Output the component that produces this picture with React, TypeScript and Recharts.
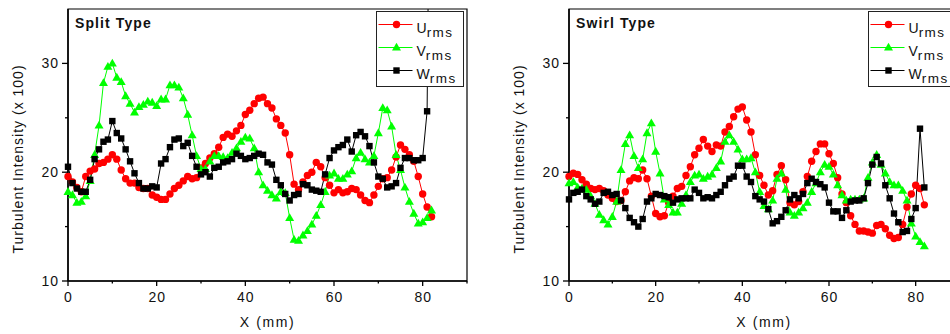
import React from 'react'
import { LineChart, Line, XAxis, YAxis, ReferenceArea, Legend } from 'recharts'

// positions along the jet, mm
const X_MM = [
  0, 1, 2, 3, 4, 5, 6, 7, 8, 9, 10, 11, 12, 13, 14, 15, 16, 17, 18, 19, 20,
  21, 22, 23, 24, 25, 26, 27, 28, 29, 30, 31, 32, 33, 34, 35, 36, 37, 38, 39, 40,
  41, 42, 43, 44, 45, 46, 47, 48, 49, 50, 51, 52, 53, 54, 55, 56, 57, 58, 59, 60,
  61, 62, 63, 64, 65, 66, 67, 68, 69, 70, 71, 72, 73, 74, 75, 76, 77, 78, 79, 80,
  81, 82,
]

// Split type
const SPLIT_U = [
  19.6, 19.1, 18.6, 18.2, 19.6, 20.1, 20.3, 20.8, 20.9, 21.2,
  21.6, 21.2, 20.2, 19.4, 19.0, 19.0, 18.6, 18.5, 18.5, 17.9,
  17.7, 17.5, 17.5, 18.0, 18.5, 18.8, 19.2, 19.6, 19.4, 19.5,
  20.4, 20.8, 21.3, 21.7, 22.3, 23.2, 23.5, 23.3, 23.8, 24.3,
  25.3, 25.7, 26.3, 26.8, 26.9, 26.3, 25.9, 24.9, 24.3, 23.6,
  21.6, 18.9, 18.4, 19.1, 19.7, 20.0, 20.9, 20.5, 19.5, 18.8,
  18.1, 18.4, 18.1, 18.2, 18.5, 18.4, 17.9, 17.4, 17.2, 17.9,
  18.7, 19.4, 19.5, 20.2, 21.4, 22.5, 22.1, 21.6, 21.0, 19.6,
  18.0, 16.8, 15.9,
]
const SPLIT_V = [
  18.2, 17.9, 17.2, 17.3, 17.8, 19.2, 21.6, 24.3, 28.2, 29.7,
  30.0, 28.7, 28.3, 27.0, 26.3, 25.5, 26.0, 26.2, 26.5, 26.4,
  26.1, 26.7, 26.7, 28.0, 28.0, 27.8, 26.8, 25.3, 23.4, 21.5,
  20.3, 20.3, 21.0, 21.5, 21.5, 21.4, 21.3, 21.8, 22.2, 22.8,
  23.2, 23.1, 22.2, 20.0, 18.8, 18.3, 17.9, 17.6, 18.2, 18.1,
  15.8, 13.8, 13.7, 14.2, 14.6, 15.2, 16.0, 17.0, 18.2, 19.7,
  19.9, 19.4, 19.4, 19.8, 20.1, 21.3, 21.8, 21.2, 20.9, 21.5,
  23.6, 25.9, 25.7, 24.2, 21.6, 20.2, 18.6, 17.3, 16.2, 15.3,
  15.4, 15.8, 16.5,
]
const SPLIT_W = [
  20.5, 19.0, 18.5, 18.2, 18.2, 19.3, 21.2, 22.1, 22.8, 23.0,
  24.7, 23.6, 23.1, 22.1, 21.0, 19.9, 19.0, 18.5, 18.5, 18.7,
  18.6, 20.8, 21.2, 22.3, 23.0, 23.1, 22.4, 22.7, 21.5, 20.5,
  19.8, 20.0, 19.6, 20.4, 20.5, 20.9, 21.0, 21.2, 21.7, 21.5,
  21.2, 21.3, 21.5, 21.7, 21.6, 20.9, 20.7, 19.3, 18.8, 18.0,
  17.4, 17.9, 18.0, 18.9, 18.8, 18.4, 18.3, 18.2, 19.8, 21.3,
  22.0, 22.3, 22.5, 23.0, 21.9, 23.4, 23.7, 23.3, 22.4, 20.9,
  19.6, 19.4, 18.6, 18.7, 19.0, 20.4, 21.3, 21.3, 21.1, 21.1,
  21.3, 25.6, 70.0,
]

// Swirl type
const SWIRL_U = [
  19.6, 19.9, 19.8, 19.3, 18.9, 18.5, 18.4, 18.5, 18.3, 17.9,
  17.6, 17.3, 17.4, 18.2, 19.2, 19.5, 19.4, 20.2, 19.4, 17.8,
  16.2, 15.9, 16.0, 17.2, 17.8, 18.5, 18.7, 19.7, 20.5, 21.6,
  22.2, 23.0, 22.4, 21.9, 22.5, 22.4, 23.7, 24.2, 25.1, 25.8,
  26.0, 24.8, 23.7, 21.6, 19.7, 18.8, 17.9, 18.3, 19.8, 20.6,
  19.3, 17.2, 17.0, 17.3, 18.2, 19.6, 21.0, 21.9, 22.6, 22.6,
  21.7, 20.8, 19.5, 18.0, 17.2, 16.0, 15.2, 14.6, 14.6, 14.5,
  14.4, 15.1, 15.2, 14.8, 14.2, 13.9, 14.0, 15.2, 16.8, 18.0,
  18.8, 18.5, 17.0,
]
const SWIRL_V = [
  19.0, 19.1, 18.6, 18.5, 18.4, 17.8, 17.1, 16.1, 15.6, 15.2,
  15.9, 17.3, 20.2, 22.6, 23.4, 21.5, 20.4, 21.2, 23.6, 24.5,
  21.9, 19.9, 17.5, 17.0, 16.3, 16.3, 17.1, 17.9, 19.1, 19.7,
  19.8, 19.4, 19.6, 19.8, 20.4, 21.0, 22.8, 23.4, 22.8, 22.1,
  21.2, 21.2, 21.3, 20.0, 18.2, 16.9, 16.6, 17.4, 19.4, 19.9,
  18.4, 16.3, 16.0, 16.3, 16.7, 17.2, 18.2, 19.0, 20.0, 20.7,
  20.5, 19.8, 18.8, 17.9, 17.4, 17.5, 17.5, 17.5, 17.6, 19.5,
  20.9, 21.6, 20.7, 19.9, 19.1, 18.8, 18.8, 18.3, 17.4, 15.3,
  14.1, 13.6, 13.2,
]
const SWIRL_W = [
  17.5, 18.1, 18.2, 18.4, 17.8, 17.5, 17.1, 17.3, 18.1, 18.2,
  17.9, 18.0, 17.4, 16.7, 15.8, 15.4, 15.0, 15.7, 17.3, 17.6,
  18.0, 17.9, 17.8, 17.7, 17.2, 17.5, 17.6, 17.6, 17.6, 18.4,
  18.1, 17.6, 17.7, 17.6, 17.9, 18.2, 18.8, 19.4, 19.6, 20.6,
  20.6, 19.6, 19.1, 17.8, 17.5, 17.3, 16.6, 15.3, 15.5, 15.9,
  16.5, 17.5, 17.9, 17.6, 18.0, 19.0, 19.4, 19.1, 18.9, 18.6,
  17.2, 16.4, 16.4, 15.8, 16.5, 17.3, 17.4, 17.4, 17.6, 19.0,
  20.7, 21.4, 20.8, 18.8, 17.6, 16.2, 15.4, 14.5, 14.6, 15.7,
  16.7, 24.0, 18.6,
]

const X_TICKS = [0, 10, 20, 30, 40, 50, 60, 70, 80, 90]
const Y_TICKS = [10, 15, 20, 25, 30]

const FONT = "'Liberation Sans', Arial, sans-serif"

const SERIES = [
  { key: 'u', label: 'U', color: '#ff0000', shape: 'circle' },
  { key: 'v', label: 'V', color: '#00ff00', shape: 'triangle' },
  { key: 'w', label: 'W', color: '#000000', shape: 'square' },
]

function Marker({ cx, cy, shape, color }: any) {
  if (cx == null || cy == null) return null
  if (shape === 'circle') return <circle cx={cx} cy={cy} r={3.7} fill={color} />
  if (shape === 'triangle')
    return <polygon points={`${cx},${cy - 4.7} ${cx + 4.5},${cy + 3.1} ${cx - 4.5},${cy + 3.1}`} fill={color} />
  return <rect x={cx - 3.2} y={cy - 3.2} width={6.4} height={6.4} fill={color} />
}

const XTick = ({ x, y, payload }: any) => {
  const v = payload.value
  const major = v % 20 === 0
  return (
    <g>
      <line x1={x} x2={x} y1={y} y2={y + (major ? 5 : 2.5)} stroke="#000" strokeWidth={1.3} />
      {major && (
        <text x={x + 0.5} y={y + 21} textAnchor="middle" fontSize={14} letterSpacing={1} fontFamily={FONT} fill="#111">
          {v}
        </text>
      )}
    </g>
  )
}

const YTick = ({ x, y, payload }: any) => {
  const v = payload.value
  const major = v % 10 === 0
  return (
    <g>
      <line x1={x - (major ? 6 : 3)} x2={x} y1={y} y2={y} stroke="#000" strokeWidth={1.3} />
      {major && (
        <text x={x - 9} y={y + 5} textAnchor="end" fontSize={14} letterSpacing={1} fontFamily={FONT} fill="#111">
          {v}
        </text>
      )}
    </g>
  )
}

const TitleLabel = ({ viewBox, text }: any) => (
  <text
    x={viewBox.x + 7}
    y={viewBox.y + 19}
    fontSize={14}
    fontWeight="bold"
    letterSpacing={1.1}
    fontFamily={FONT}
    fill="#111"
  >
    {text}
  </text>
)

const YTitle = ({ viewBox }: any) => {
  const cx = viewBox.x + 18
  const cy = viewBox.y + viewBox.height / 2 + 14
  return (
    <text
      x={cx}
      y={cy}
      transform={`rotate(-90 ${cx} ${cy})`}
      textAnchor="middle"
      dominantBaseline="central"
      fontSize={14}
      letterSpacing={1}
      fontFamily={FONT}
      fill="#111"
    >
      Turbulent Intensity (x 100)
    </text>
  )
}

const XTitle = ({ viewBox }: any) => (
  <text
    x={viewBox.x + viewBox.width / 2}
    y={viewBox.y + 46}
    textAnchor="middle"
    fontSize={14}
    letterSpacing={1.6}
    fontFamily={FONT}
    fill="#111"
  >
    X (mm)
  </text>
)

const LegendBox = ({ payload }: any) => (
  <div
    style={{
      width: 88,
      height: 76,
      boxSizing: 'border-box',
      border: '1.5px solid #222',
      background: '#fff',
    }}
  >
    <svg width={85} height={73} style={{ display: 'block' }}>
      {(payload || []).map((p: any, i: number) => {
        const s = SERIES.find((d) => d.key === p.dataKey) || SERIES[i]
        const cy = 12.5 + 23 * i
        return (
          <g key={s.key}>
            <line x1={1.5} x2={35.5} y1={cy} y2={cy} stroke={s.color} strokeWidth={1} />
            <Marker cx={19.5} cy={cy} shape={s.shape} color={s.color} />
            <text x={39.5} y={cy + 8} fontSize={14} fontFamily={FONT} fill="#111">
              {s.label}
              <tspan fontSize={13.5} dy={4} letterSpacing={1.5}>
                rms
              </tspan>
            </text>
          </g>
        )
      })}
    </svg>
  </div>
)

type PanelProps = {
  title: string
  u: number[]
  v: number[]
  w: number[]
  plotWidth: number
}

function Panel({ title, u, v, w, plotWidth }: PanelProps) {
  const data = X_MM.map((x, i) => ({ x, u: u[i], v: v[i], w: w[i] }))
  const yAxisWidth = 68
  const rightMargin = 13
  const width = yAxisWidth + plotWidth + rightMargin
  return (
    <LineChart width={width} height={334} data={data} margin={{ top: 9, right: rightMargin, left: 0, bottom: 0 }}>
      <XAxis
        dataKey="x"
        type="number"
        domain={[0, 90]}
        ticks={X_TICKS}
        interval={0}
        height={53}
        tickSize={0}
        tickMargin={0}
        tickLine={false}
        axisLine={{ stroke: '#000', strokeWidth: 1.5 }}
        tick={<XTick />}
        label={<XTitle />}
      />
      <YAxis
        type="number"
        domain={[10, 35]}
        allowDataOverflow
        ticks={Y_TICKS}
        interval={0}
        width={yAxisWidth}
        tickSize={0}
        tickMargin={0}
        tickLine={false}
        axisLine={{ stroke: '#000', strokeWidth: 1.5 }}
        tick={<YTick />}
        label={<YTitle />}
      />
      <ReferenceArea
        x1={0}
        x2={90}
        y1={10}
        y2={35}
        fill="none"
        fillOpacity={0}
        stroke="#000"
        strokeWidth={1.2}
        label={<TitleLabel text={title} />}
      />
      {SERIES.map((s) => (
        <Line
          key={s.key}
          dataKey={s.key}
          name={s.label}
          stroke={s.color}
          strokeWidth={1}
          isAnimationActive={false}
          activeDot={false}
          dot={(p: any) => <Marker key={`${s.key}-${p.index}`} cx={p.cx} cy={p.cy} shape={s.shape} color={s.color} />}
        />
      ))}
      <Legend
        layout="horizontal"
        verticalAlign="middle"
        align="center"
        content={<LegendBox />}
        wrapperStyle={{ left: yAxisWidth + plotWidth - 91, top: 11, width: 88, height: 76 }}
      />
    </LineChart>
  )
}

export default function App() {
  return (
    <div
      style={{
        position: 'fixed',
        left: 0,
        top: 0,
        width: 950,
        height: 334,
        overflow: 'hidden',
        background: '#fff',
        fontFamily: FONT,
      }}
    >
      <div style={{ position: 'absolute', left: 0, top: 0 }}>
        <Panel title="Split Type" u={SPLIT_U} v={SPLIT_V} w={SPLIT_W} plotWidth={399} />
      </div>
      <div style={{ position: 'absolute', left: 501, top: 0 }}>
        <Panel title="Swirl Type" u={SWIRL_U} v={SWIRL_V} w={SWIRL_W} plotWidth={390} />
      </div>
    </div>
  )
}
